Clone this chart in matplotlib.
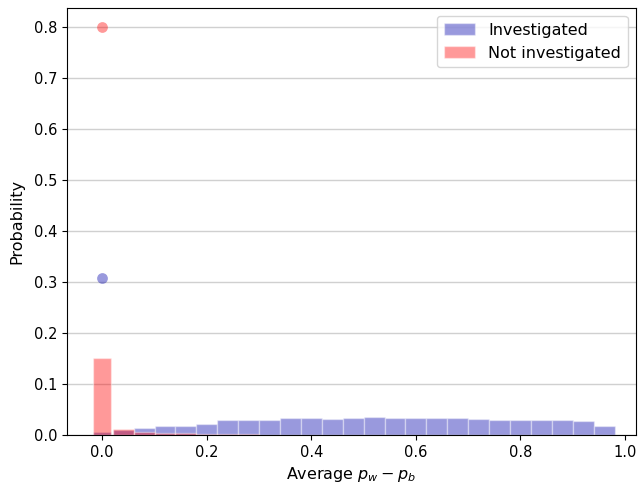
import numpy as np
import matplotlib
matplotlib.use("Agg")
import matplotlib.pyplot as plt

# bin centres of the histogram (width 0.04)
bin_centres = [round(0.04 * i, 2) for i in range(25)]

investigated = [0.0065, 0.010, 0.013, 0.0176, 0.017, 0.022, 0.0288, 0.0288, 0.0288,
                0.033, 0.033, 0.031, 0.033, 0.036, 0.033, 0.033, 0.033, 0.033,
                0.031, 0.0288, 0.0288, 0.0288, 0.0288, 0.027, 0.017]
not_investigated = [0.15, 0.0124, 0.0065, 0.004, 0.004, 0.0015, 0.0015, 0.0015, 0.0,
                    0.0, 0.0, 0.0, 0.0, 0.0, 0.0, 0.0, 0.0, 0.0,
                    0.0, 0.0, 0.0, 0.0, 0.0, 0.0, 0.0]

# probability mass exactly at zero
zero_investigated = 0.307
zero_not_investigated = 0.8

blue = '#0000aa'
red = 'red'

# first bin is narrower than the rest
widths = [0.034] + [0.04] * (len(bin_centres) - 1)

fig, ax = plt.subplots(figsize=(6.4, 4.86), dpi=100)
fig.subplots_adjust(left=0.105, right=0.993, bottom=0.105, top=0.983)

ax.bar(bin_centres, investigated, width=widths, color=blue, alpha=0.4,
       edgecolor='white', linewidth=1, label='Investigated')
ax.bar(bin_centres, not_investigated, width=widths, color=red, alpha=0.4,
       edgecolor='white', linewidth=1, label='Not investigated')
ax.scatter([0], [zero_investigated], color=blue, alpha=0.4, s=60, linewidths=0, zorder=3)
ax.scatter([0], [zero_not_investigated], color=red, alpha=0.4, s=60, linewidths=0, zorder=3)

ax.yaxis.grid(True, color='#d0d0d0', linewidth=1)
ax.set_axisbelow(True)
ax.set_xlim(-0.067, 1.02)
ax.set_ylim(0, 0.837)
ax.tick_params(labelsize=10.5)
ax.set_xlabel('Average $p_w - p_b$', fontsize=11.5)
ax.set_ylabel('Probability', fontsize=11.5, labelpad=7)
ax.legend(loc='upper right', fontsize=11.5)

plt.savefig('out.png')
